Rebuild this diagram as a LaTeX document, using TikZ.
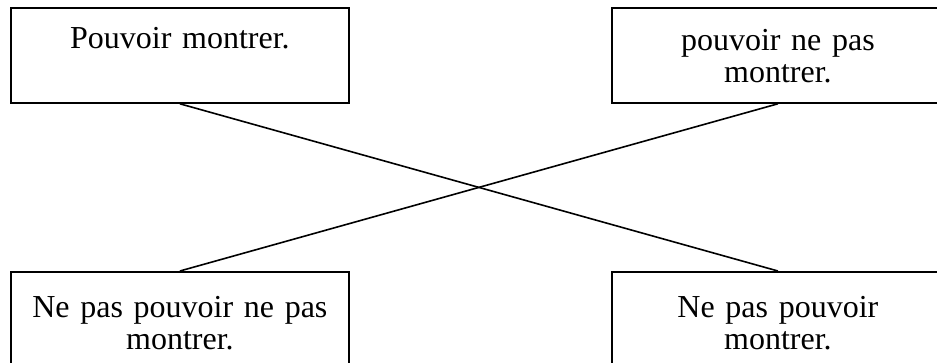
\documentclass[tikz,border=0pt]{standalone}
\usepackage{fontspec}
\setmainfont{Liberation Serif}
\usetikzlibrary{positioning}
\tikzset{
  square box/.style = {
    draw, line width=1.8pt, rectangle, inner xsep=0pt, inner ysep=0pt,
    align=center, anchor=north west,
    font=\fontsize{32}{32}\selectfont,
  },
  left box/.style = {square box, text width=338pt},
  right box/.style = {square box, text width=332pt},
  cross/.style = {line width=1.6pt},
}
\begin{document}
\begin{tikzpicture}[x=1pt, y=-1pt]
    %% Fix the page size and cut off what runs beyond it
    \useasboundingbox (0, 0) rectangle (937, 363);
    \clip (0, 0) rectangle (937, 363);

    %% The four corner boxes
    \node [left box, text height=41pt, text depth=54pt] (tl) at (10, 7)
      {Pouvoir montrer.};
    \node [right box, text height=43pt, text depth=52pt] (tr) at (611, 7)
      {pouvoir ne pas\\montrer.};
    \node [left box, text height=46pt, text depth=60pt] (bl) at (10, 271)
      {Ne pas pouvoir ne pas\\montrer.};
    \node [right box, text height=46pt, text depth=60pt] (br) at (611, 271)
      {Ne pas pouvoir\\montrer.};

    %% The two crossing lines
    \draw [cross] (tl.south) -- (br.north);
    \draw [cross] (tr.south) -- (bl.north);
\end{tikzpicture}
\end{document}
